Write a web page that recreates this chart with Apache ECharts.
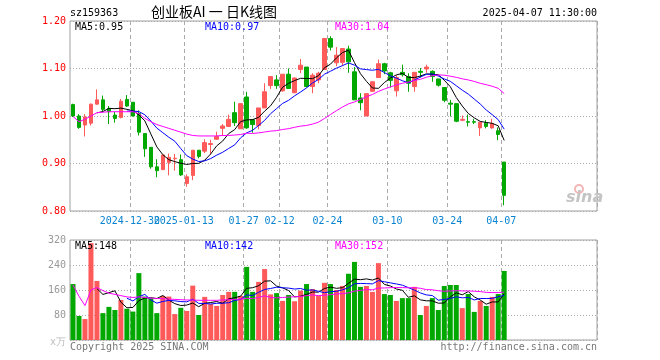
<!DOCTYPE html>
<html><head><meta charset="utf-8">
<script src="https://cdn.jsdelivr.net/npm/echarts@6/dist/echarts.min.js"></script>
<style>html,body{margin:0;padding:0;background:#fff}#c{width:660px;height:360px}</style>
</head><body><div id="c"></div>
<script>
// ---- data ----
const dates = [
 '2024-12-16','2024-12-17','2024-12-18','2024-12-19','2024-12-20','2024-12-23','2024-12-24','2024-12-25','2024-12-26','2024-12-27',
 '2024-12-30','2024-12-31','2025-01-02','2025-01-03','2025-01-06','2025-01-07','2025-01-08','2025-01-09','2025-01-10','2025-01-13',
 '2025-01-14','2025-01-15','2025-01-16','2025-01-17','2025-01-20','2025-01-21','2025-01-22','2025-01-23','2025-01-24','2025-01-27',
 '2025-02-05','2025-02-06','2025-02-07','2025-02-10','2025-02-11','2025-02-12','2025-02-13','2025-02-14','2025-02-17','2025-02-18',
 '2025-02-19','2025-02-20','2025-02-21','2025-02-24','2025-02-25','2025-02-26','2025-02-27','2025-02-28','2025-03-03','2025-03-04',
 '2025-03-05','2025-03-06','2025-03-07','2025-03-10','2025-03-11','2025-03-12','2025-03-13','2025-03-14','2025-03-17','2025-03-18',
 '2025-03-19','2025-03-20','2025-03-21','2025-03-24','2025-03-25','2025-03-26','2025-03-27','2025-03-28','2025-03-31','2025-04-01',
 '2025-04-02','2025-04-03','2025-04-07'];
const opens = [1.024,1.000,0.981,0.985,1.025,1.034,1.016,1.002,0.997,1.035,
 1.029,1.005,0.963,0.934,0.893,0.887,0.902,0.910,0.908,0.858,
 0.875,0.928,0.926,0.940,0.951,0.974,0.978,1.007,0.973,1.040,
 0.992,0.980,1.017,1.064,1.076,1.053,1.088,1.049,1.098,1.103,
 1.062,1.076,1.098,1.163,1.112,1.113,1.141,1.093,1.038,1.000,
 1.052,1.081,1.110,1.091,1.053,1.092,1.083,1.062,1.094,1.099,
 1.094,1.078,1.060,1.027,1.026,0.991,0.988,0.988,0.975,0.985,
 0.975,0.969,0.903];
const closes = [1.000,0.976,0.998,1.025,1.034,1.014,1.009,0.995,1.031,1.021,
 1.000,0.966,0.931,0.893,0.885,0.918,0.913,0.911,0.876,0.872,
 0.928,0.915,0.944,0.942,0.957,0.979,0.993,0.986,1.026,0.975,
 0.982,1.017,1.051,1.083,1.064,1.088,1.058,1.080,1.107,1.062,
 1.086,1.090,1.163,1.145,1.128,1.142,1.114,1.034,1.028,1.047,
 1.072,1.110,1.095,1.075,1.081,1.087,1.069,1.092,1.092,1.103,
 1.083,1.065,1.033,1.025,0.989,0.993,0.987,0.987,0.987,0.978,
 0.984,0.961,0.833];
const lows = [0.998,0.973,0.957,0.980,1.024,1.009,0.983,0.986,0.995,1.019,
 0.999,0.959,0.914,0.889,0.871,0.887,0.875,0.885,0.874,0.851,
 0.865,0.911,0.922,0.919,0.950,0.958,0.977,0.979,0.973,0.973,
 0.965,0.972,1.017,1.057,1.057,1.051,1.057,1.048,1.090,1.060,
 1.048,1.069,1.097,1.138,1.105,1.105,1.091,1.034,1.012,1.000,
 1.051,1.081,1.088,1.060,1.041,1.083,1.051,1.051,1.081,1.091,
 1.072,1.062,1.029,0.999,0.987,0.989,0.978,0.983,0.958,0.974,
 0.973,0.949,0.812];
const highs = [1.026,1.004,1.004,1.026,1.056,1.043,1.021,1.009,1.036,1.044,
 1.029,1.012,0.963,0.934,0.909,0.918,0.921,0.920,0.919,0.877,
 0.928,0.928,0.951,0.950,0.967,0.983,1.003,1.030,1.026,1.051,
 0.992,1.017,1.069,1.083,1.086,1.088,1.100,1.081,1.120,1.103,
 1.090,1.093,1.164,1.168,1.145,1.142,1.148,1.103,1.048,1.047,
 1.073,1.119,1.112,1.093,1.086,1.108,1.090,1.092,1.101,1.108,
 1.096,1.078,1.060,1.034,1.026,1.001,1.003,0.994,0.987,0.991,
 0.994,0.976,0.903];
const volumes = [179,77,67,310,189,86,106,96,128,100,
 91,214,139,133,86,141,139,83,103,93,
 174,80,138,115,109,144,154,154,141,234,
 154,186,227,146,150,125,144,124,158,179,
 163,142,183,179,160,173,212,250,170,173,
 154,246,147,144,125,134,134,170,80,109,
 134,96,173,176,176,102,147,90,125,109,
 138,147,221];
// MA30 values visible before 30 days of data exist
const priceMa30Head = [0.999,0.988,0.993,1.000,1.007,1.008,1.009,1.009,1.009,1.009,
 1.009,1.005,0.995,0.988,0.982,0.978,0.974,0.970,0.966,0.962,
 0.959,0.958,0.958,0.958,0.958,0.959,0.959,0.960,0.961];
const volMa30Head = [176,140,110,160,168,158,150,146,142,138,
 136,138,136,134,133,132,131,130,129,128,
 128,127,127,127,127,128,129,130,131];
const tickDates  = ['2024-12-30','2025-01-13','2025-01-27','2025-02-12','2025-02-24','2025-03-10','2025-03-24','2025-04-07'];
const tickLabels = ['2024-12-30','2025-01-13','01-27','02-12','02-24','03-10','03-24','04-07'];
const priceTicks = [0.80, 0.90, 1.00, 1.10, 1.20];
const volTicks = [0, 80, 160, 240, 320];
const titleText = '创业板AI 一 日K线图';
const codeText = 'sz159363';
const timeText = '2025-04-07 11:30:00';
const priceMaLabels = ['MA5:0.95','MA10:0.97','MA30:1.04'];
const volMaLabels = ['MA5:148','MA10:142','MA30:152'];
const unitText = 'x万';
const copyText = 'Copyright 2025 SINA.COM';
const urlText = 'http://finance.sina.com.cn';
const totalSlots = 88;

// ---- helpers ----
function ma(arr, n, head) {
  return arr.map((v, i) => {
    if (i < n - 1) return head ? head[i] : null;
    let s = 0; for (let j = i - n + 1; j <= i; j++) s += arr[j];
    return +(s / n).toFixed(4);
  });
}
const cats = dates.concat(Array.from({length: totalSlots - dates.length}, (_, i) => '_' + i));
const RED = '#ff5a5a', GREEN = '#00a800';
const MONO = '"DejaVu Sans Mono", monospace';
const isTick = (idx, v) => tickDates.indexOf(v) >= 0;

const chart = echarts.init(document.getElementById('c'), null, {renderer: 'canvas'});
const grids = [
  {left: 70, top: 21, width: 527, height: 190, show: true, borderColor: '#a0a0a0', borderWidth: 1},
  {left: 70, top: 240, width: 527, height: 100, show: true, borderColor: '#a0a0a0', borderWidth: 1}
];
const vSplit = {show: true, interval: isTick, lineStyle: {color: '#aaa', type: [4, 3], width: 1}};
const hSplit = {show: true, lineStyle: {color: '#aaa', type: [1, 2], width: 1}};

const lineS = (data, color, xi, yi) => ({
  type: 'line', data, xAxisIndex: xi, yAxisIndex: yi, showSymbol: false, symbol: 'none',
  lineStyle: {color, width: 1}, itemStyle: {color}, z: 5, silent: true, connectNulls: false
});

function txt(text, x, y, color, align, font) {
  return {type: 'text', silent: true, z: 100,
    style: {text, x, y, fill: color, align: align || 'left', verticalAlign: 'middle', font: font || ('10px ' + MONO)}};
}

const staticGraphics = [
  txt(codeText, 70, 13, '#000'),
  txt(titleText, 214, 12, '#000', 'center', '14px "Noto Sans CJK SC"'),
  txt(timeText, 597, 13, '#000', 'right'),
  txt(priceMaLabels[0], 75, 27, '#000'),
  txt(priceMaLabels[1], 205, 27, '#0000ff'),
  txt(priceMaLabels[2], 335, 27, '#ff00ff'),
  txt(volMaLabels[0], 75, 246, '#000'),
  txt(volMaLabels[1], 205, 246, '#0000ff'),
  txt(volMaLabels[2], 335, 246, '#ff00ff'),
  txt(unitText, 66, 342, '#bbb', 'right'),
  txt(copyText, 70, 347, '#777'),
  txt(urlText, 597, 347, '#777', 'right'),
  {type: 'circle', silent: true, z: 100, shape: {cx: 579, cy: 189, r: 4},
   style: {fill: 'none', stroke: '#f3b5b5', lineWidth: 2}},
  txt('sina', 566, 198, '#c4c4c4', 'left', 'italic bold 16px "DejaVu Sans"')
];

chart.setOption({
  animation: false,
  backgroundColor: '#fff',
  grid: grids,
  xAxis: [
    {type: 'category', gridIndex: 0, data: cats, boundaryGap: true,
     axisLine: {show: false}, axisTick: {show: false}, axisLabel: {show: false},
     splitLine: vSplit},
    {type: 'category', gridIndex: 1, data: cats, boundaryGap: true,
     axisLine: {show: false}, axisTick: {show: false}, axisLabel: {show: false},
     splitLine: vSplit}
  ],
  yAxis: [
    {type: 'value', gridIndex: 0, min: priceTicks[0], max: priceTicks[priceTicks.length - 1], interval: 0.1,
     axisLine: {show: false}, axisTick: {show: false},
     axisLabel: {color: '#ff0000', fontFamily: MONO, fontSize: 10, margin: 4, formatter: v => v.toFixed(2)},
     splitLine: hSplit},
    {type: 'value', gridIndex: 1, min: volTicks[0], max: volTicks[volTicks.length - 1], interval: 80,
     axisLine: {show: false}, axisTick: {show: false},
     axisLabel: {color: '#999', fontFamily: MONO, fontSize: 10, margin: 4, formatter: v => v === 0 ? '' : String(v)},
     splitLine: hSplit}
  ],
  series: [
    {type: 'candlestick', xAxisIndex: 0, yAxisIndex: 0, barWidth: 4,
     data: dates.map((d, i) => [opens[i], closes[i], lows[i], highs[i]]),
     itemStyle: {color: RED, color0: GREEN, borderColor: RED, borderColor0: GREEN, borderWidth: 1}, z: 2},
    lineS(ma(closes, 5), '#000000', 0, 0),
    lineS(ma(closes, 10), '#0000ff', 0, 0),
    lineS(ma(closes, 30, priceMa30Head), '#ff00ff', 0, 0),
    {type: 'bar', xAxisIndex: 1, yAxisIndex: 1, barWidth: 5, z: 2,
     data: volumes.map((v, i) => ({value: v, itemStyle: {color: closes[i] >= opens[i] ? RED : GREEN}}))},
    lineS(ma(volumes, 5), '#000000', 1, 1),
    lineS(ma(volumes, 10), '#0000ff', 1, 1),
    lineS(ma(volumes, 30, volMa30Head), '#ff00ff', 1, 1)
  ],
  graphic: staticGraphics
});

// date labels placed at the gridlines (left slot boundary of each tick date) via the axis scale
const slot = 527 / totalSlots;
const dateGraphics = tickDates.map((d, i) => {
  const cx = chart.convertToPixel({xAxisIndex: 0}, d);
  return txt(tickLabels[i], cx - slot / 2, 221, '#0a84d0', 'center');
});
chart.setOption({graphic: staticGraphics.concat(dateGraphics)}, {replaceMerge: ['graphic']});
</script></body></html>
